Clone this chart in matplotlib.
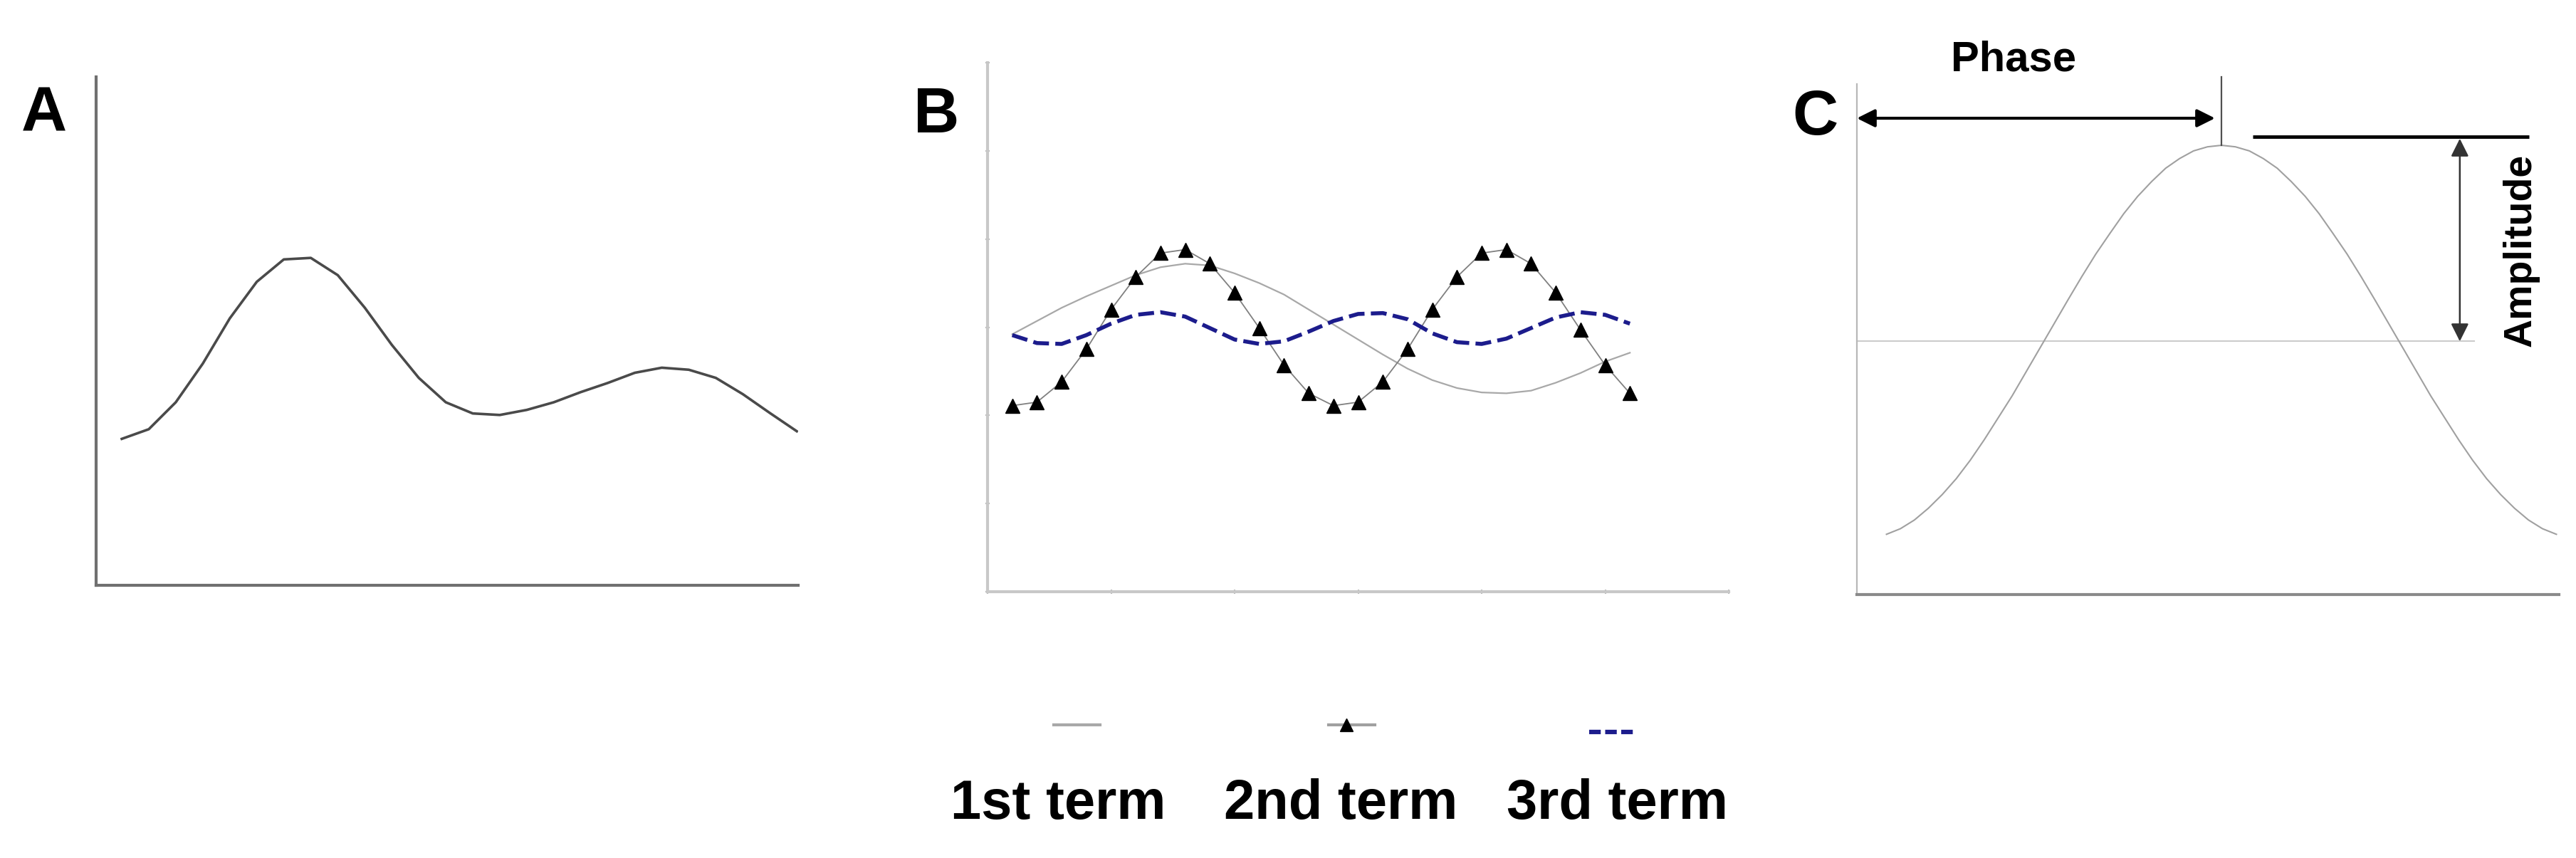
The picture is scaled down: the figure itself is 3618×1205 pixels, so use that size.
import numpy as np
import matplotlib
matplotlib.use("Agg")
import matplotlib.pyplot as plt
from matplotlib.lines import Line2D

# ---------------- data ----------------
a_x = np.arange(1, 27)
a_y = [2.88, 3.07, 3.60, 4.36, 5.25, 5.97, 6.41, 6.44, 6.10, 5.46, 4.73, 4.08, 3.60,
       3.38, 3.35, 3.45, 3.60, 3.80, 3.98, 4.18, 4.28, 4.24, 4.08, 3.76, 3.39, 3.03]

b_x = np.arange(1, 27)
term1 = [2.92, 3.07, 3.22, 3.35, 3.47, 3.59, 3.68, 3.72, 3.70, 3.61, 3.50, 3.37, 3.20,
         3.03, 2.86, 2.69, 2.53, 2.40, 2.31, 2.26, 2.25, 2.28, 2.37, 2.48, 2.61, 2.71]
term2 = [2.11, 2.15, 2.38, 2.75, 3.20, 3.57, 3.84, 3.88, 3.72, 3.39, 2.99, 2.57, 2.25,
         2.11, 2.15, 2.38, 2.75, 3.20, 3.57, 3.84, 3.88, 3.72, 3.39, 2.97, 2.57, 2.25]
term3 = [2.91, 2.82, 2.81, 2.91, 3.04, 3.14, 3.17, 3.12, 2.99, 2.86, 2.81, 2.84, 2.95,
         3.07, 3.15, 3.16, 3.09, 2.93, 2.83, 2.81, 2.87, 2.99, 3.11, 3.17, 3.14, 3.04]
legend_labels = ["1st term", "2nd term", "3rd term"]

c_x = np.arange(0, 24.5, 0.5)
c_y = [1.18, 1.29, 1.46, 1.69, 1.96, 2.27, 2.63, 3.03, 3.46, 3.89, 4.36, 4.83,
       5.30, 5.77, 6.23, 6.67, 7.07, 7.46, 7.80, 8.09, 8.35, 8.54, 8.69, 8.77,
       8.80,
       8.77, 8.69, 8.54, 8.35, 8.09, 7.80, 7.46, 7.07, 6.67, 6.23, 5.77, 5.30,
       4.83, 4.36, 3.89, 3.46, 3.03, 2.63, 2.27, 1.96, 1.69, 1.46, 1.29, 1.18]
c_mean = 4.96
panel_labels = ["A", "B", "C"]

# ---------------- figure ----------------
W, H = 3618, 1205
fig = plt.figure(figsize=(W / 100, H / 100), dpi=100)
fig.patch.set_facecolor("white")

BOLD = ["Liberation Sans Narrow", "Liberation Sans", "DejaVu Sans"]
REG = ["Liberation Sans", "DejaVu Sans"]


def box(l, r, t, b):
    return [l / W, 1 - b / H, (r - l) / W, (b - t) / H]


def fx(px):
    return px / W


def fy(py):
    return 1 - py / H


def style_axes(ax, lcol, llw, bcol, blw):
    for s in ["top", "right"]:
        ax.spines[s].set_visible(False)
    ax.spines["left"].set_color(lcol)
    ax.spines["left"].set_linewidth(llw)
    ax.spines["bottom"].set_color(bcol)
    ax.spines["bottom"].set_linewidth(blw)
    ax.set_facecolor("none")


# ---- Panel A ----
axA = fig.add_axes(box(135, 1121, 108, 822))
style_axes(axA, "#707070", 3.0, "#707070", 3.0)
axA.plot(a_x, a_y, color="#4a4a4a", lw=2.6, solid_joinstyle="round")
axA.set_xlim(0.05, 26.05)
axA.set_ylim(0, 10)
axA.set_xticks([])
axA.set_yticks([])

# ---- Panel B ----
axB = fig.add_axes(box(1387, 2428, 88, 831))
style_axes(axB, "#c8c8c8", 3.0, "#c8c8c8", 3.0)
axB.plot(b_x, term1, color="#a8a8a8", lw=1.6)
axB.plot(b_x, term2, color="#808080", lw=1.3, marker="^", markersize=15,
         markerfacecolor="black", markeredgecolor="black")
axB.plot(b_x, term3, color="#1c1c8c", lw=4.0, linestyle=(0, (4.0, 1.6)))
axB.set_xlim(0, 30)
axB.set_ylim(0, 6)
axB.set_xticks(np.arange(0, 31, 5))
axB.set_yticks(np.arange(0, 7, 1))
axB.tick_params(direction="inout", length=5, width=1.5, color="#b8b8b8",
                labelbottom=False, labelleft=False)

# ---- Panel C ----
axC = fig.add_axes(box(2608, 3594, 118, 835))
style_axes(axC, "#b8b8b8", 1.6, "#8a8a8a", 3.0)
axC.set_xlim(-1.06, 24.09)
axC.set_ylim(0, 10)
axC.set_xticks([])
axC.set_yticks([])
axC.plot([-1.06, 21.05], [c_mean, c_mean], color="#cccccc", lw=1.5, clip_on=False)
axC.plot(c_x, c_y, color="#a0a0a0", lw=1.5)
peak_i = int(np.argmax(c_y))
axC.plot([c_x[peak_i], c_x[peak_i]], [c_y[peak_i], 10.14], color="#505050", lw=1.6,
         clip_on=False)
axC.annotate("", xy=(11.77, 9.33), xytext=(-1.06, 9.33),
             arrowprops=dict(arrowstyle="<|-|>", lw=3.0, color="black",
                             mutation_scale=38, shrinkA=0, shrinkB=0),
             annotation_clip=False)
axC.plot([13.11, 23.02], [8.97, 8.97], color="black", lw=3.5, clip_on=False,
         solid_capstyle="butt")
axC.annotate("", xy=(20.54, 8.93), xytext=(20.54, c_mean),
             arrowprops=dict(arrowstyle="<|-|>", lw=1.8, color="#333333",
                             mutation_scale=38, shrinkA=0, shrinkB=0),
             annotation_clip=False)
fig.text(fx(2828), fy(100), "Phase", fontsize=43, fontweight="bold", family=REG,
         ha="center", va="baseline")
axC.text(22.74, 6.74, "Amplitude", fontsize=40, fontweight="bold", family=REG,
         rotation=90, ha="center", va="center", clip_on=False)

# ---- panel letters ----
for lab, (px, py) in zip(panel_labels, [(62, 185), (1315, 186), (2549, 189)]):
    fig.text(fx(px), fy(py), lab, fontsize=64, fontweight="bold", family=BOLD,
             ha="center", va="baseline")

# ---- legend (handles above labels) ----
leg_y_line = 1018
fig.add_artist(Line2D([fx(1480), fx(1545)], [fy(leg_y_line), fy(leg_y_line)],
                      color="#a8a8a8", lw=3.0))
fig.add_artist(Line2D([fx(1866), fx(1931)], [fy(leg_y_line), fy(leg_y_line)],
                      color="#a0a0a0", lw=3.0))
fig.add_artist(Line2D([fx(1891)], [fy(leg_y_line)], marker="^", markersize=13,
                      color="black", lw=0))
fig.add_artist(Line2D([fx(2232), fx(2295)], [fy(1028), fy(1028)], color="#1c1c8c",
                      lw=4.5, linestyle=(0, (2.6, 1.0))))
for lab, cx in zip(legend_labels, [1486, 1883, 2272]):
    fig.text(fx(cx), fy(1150), lab, fontsize=56, fontweight="bold", family=REG,
             ha="center", va="baseline")

fig.savefig("out.png", dpi=100, facecolor="white")
